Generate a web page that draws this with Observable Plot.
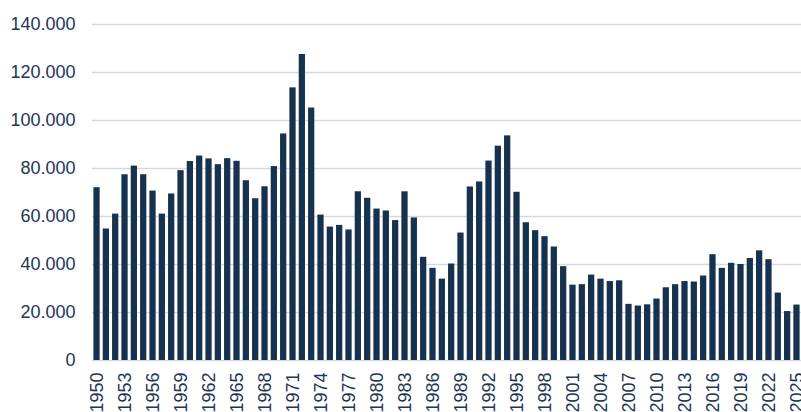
<!DOCTYPE html>
<html><head><meta charset="utf-8">
<script src="https://cdn.jsdelivr.net/npm/d3@7"></script>
<script src="https://cdn.jsdelivr.net/npm/@observablehq/plot@0.6"></script>
<style>body{margin:0;background:#fff;overflow:hidden;}</style>
</head><body><div id="chart"></div>
<script>
const years = [1950,1951,1952,1953,1954,1955,1956,1957,1958,1959,
  1960,1961,1962,1963,1964,1965,1966,1967,1968,1969,
  1970,1971,1972,1973,1974,1975,1976,1977,1978,1979,
  1980,1981,1982,1983,1984,1985,1986,1987,1988,1989,
  1990,1991,1992,1993,1994,1995,1996,1997,1998,1999,
  2000,2001,2002,2003,2004,2005,2006,2007,2008,2009,
  2010,2011,2012,2013,2014,2015,2016,2017,2018,2019,
  2020,2021,2022,2023,2024,2025];
const values = [72000,54800,61000,77400,81000,77400,70600,61000,69400,79100,
  82900,85200,84000,81600,84100,83000,74900,67400,72400,80800,
  94400,113600,127500,105200,60600,55600,56300,54400,70300,67600,
  63100,62300,58300,70300,59400,43000,38400,33900,40200,53100,
  72300,74400,83100,89300,93600,70100,57400,54100,51600,47300,
  39100,31400,31600,35600,33900,32900,33200,23400,22700,23200,
  25600,30300,31600,32900,32700,35200,44100,38400,40500,40000,
  42500,45700,42000,28100,20400,23100];
const tickYears = [1950,1953,1956,1959,1962,1965,1968,1971,1974,1977,1980,1983,1986,1989,1992,1995,1998,2001,2004,2007,2010,2013,2016,2019,2022,2025];
const yTicks = [0,20000,40000,60000,80000,100000,120000,140000];

const data = years.map((y, i) => ({year: y, value: values[i]}));
const fmt = d3.formatLocale({decimal: ",", thousands: ".", grouping: [3], currency: ["", "€"]}).format(",d");

const chart = Plot.plot({
  width: 801, height: 412,
  marginLeft: 92, marginRight: 0, marginTop: 24, marginBottom: 52,
  style: {fontFamily: "'Liberation Sans', Arial, sans-serif", fontSize: "18px", color: "#1d3654", background: "#fff"},
  x: {type: "band", domain: years, paddingInner: 0.33, paddingOuter: 0.15, round: false},
  y: {domain: [0, 140000]},
  marks: [
    Plot.gridY(yTicks, {stroke: "#d5d9de", strokeOpacity: 1, strokeWidth: 1.5}),
    Plot.barY(data, {x: "year", y: "value", fill: "#17324f"}),
    Plot.axisY(yTicks, {tickSize: 0, tickPadding: 17, tickFormat: fmt, fontSize: 18, label: null, fill: "#1d3654"}),
    Plot.axisX(tickYears, {tickSize: 0, tickRotate: -90, tickPadding: 12, tickFormat: d => String(d), fontSize: 18, label: null, fill: "#1d3654"})
  ]
});
document.getElementById("chart").appendChild(chart);
</script>
</body></html>
